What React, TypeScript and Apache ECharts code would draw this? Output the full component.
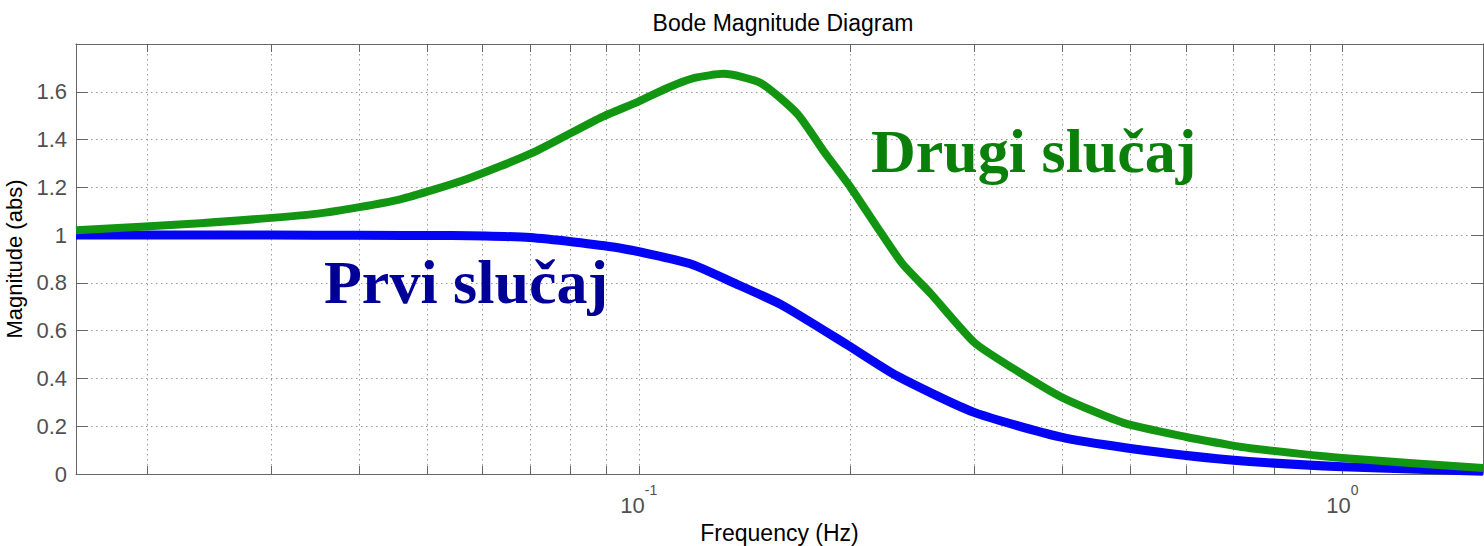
import React, { useEffect, useRef } from 'react';
import * as echarts from 'echarts';

// ---- data ----
const xMinExp = -1.8;
const xMaxExp = 0.2;
const gridFreqs = [0.02, 0.03, 0.04, 0.05, 0.06, 0.07, 0.08, 0.09, 0.1, 0.2, 0.3, 0.4, 0.5, 0.6, 0.7, 0.8, 0.9, 1];
const labelFreqs = [0.1, 1];
const yMin = 0;
const yMax = 1.8;
const yStep = 0.2;

const freqPrvi = [0.01585, 0.02, 0.03, 0.04, 0.054, 0.07, 0.093, 0.118, 0.136, 0.16, 0.198, 0.233, 0.299, 0.397, 0.494, 0.688, 1.0, 1.585];
const magPrvi = [1.0, 1.0, 1.0, 0.999, 0.998, 0.99, 0.948, 0.881, 0.802, 0.706, 0.54, 0.41, 0.259, 0.155, 0.109, 0.06, 0.03, 0.012];

const freqDrugi = [0.01585, 0.0238, 0.035, 0.0458, 0.057, 0.0707, 0.088, 0.1, 0.11, 0.12, 0.132, 0.149, 0.168, 0.183, 0.2, 0.218, 0.237, 0.26, 0.3, 0.34, 0.4, 0.49, 0.6, 0.69, 0.74, 1.0, 1.585];
const magDrugi = [1.02, 1.05, 1.09, 1.15, 1.235, 1.345, 1.49, 1.56, 1.617, 1.658, 1.675, 1.637, 1.508, 1.353, 1.2, 1.035, 0.88, 0.755, 0.55, 0.443, 0.32, 0.213, 0.155, 0.122, 0.108, 0.067, 0.025];

const titleText = 'Bode Magnitude Diagram';
const xName = 'Frequency (Hz)';
const yName = 'Magnitude (abs)';
const labelPrvi = 'Prvi slučaj';
const labelDrugi = 'Drugi slučaj';

const sans = '"Liberation Sans", Arial, sans-serif';
const serif = '"Liberation Serif", "Times New Roman", serif';

const gridExps = gridFreqs.map((f) => Math.log10(f));
const labelExps = labelFreqs.map((f) => Math.round(Math.log10(f)));

export default function App() {
  const ref = useRef<HTMLDivElement>(null);
  useEffect(() => {
    const chart = echarts.init(ref.current!, null, { renderer: 'svg' });
    const axisColor = '#666';
    const splitStyle = { color: '#9a9a9a', type: [1.5, 3.5] as any, width: 1 };
    const option: any = {
      animation: false,
      backgroundColor: '#fff',
      title: {
        text: titleText,
        left: 778,
        top: 6,
        textAlign: 'center',
        textStyle: { fontSize: 23, fontWeight: 'normal', color: '#000', fontFamily: sans },
      },
      grid: { left: 76, right: 1, top: 44, bottom: 72, outerBoundsMode: 'none', containLabel: false },
      xAxis: [
        {
          type: 'value',
          position: 'bottom',
          min: xMinExp,
          max: xMaxExp,
          name: xName,
          nameLocation: 'middle',
          nameGap: 47,
          nameTextStyle: { fontSize: 23, color: '#000', fontFamily: sans },
          axisLine: { show: true, onZero: false, lineStyle: { color: axisColor, width: 1 } },
          axisTick: { show: true, inside: true, length: 8, customValues: gridExps, lineStyle: { color: axisColor } },
          axisLabel: {
            customValues: labelExps,
            margin: 9,
            formatter: (v: number) => `{b|10}{s|${Math.round(v)}}`,
            rich: {
              b: { fontSize: 22, color: '#505050', fontFamily: sans, padding: [11, 0, 0, 0], verticalAlign: 'bottom' },
              s: { fontSize: 14, color: '#505050', fontFamily: sans, verticalAlign: 'top' },
            },
          },
          splitLine: { show: true, lineStyle: splitStyle },
        },
        {
          type: 'value',
          position: 'top',
          min: xMinExp,
          max: xMaxExp,
          axisLine: { show: true, onZero: false, lineStyle: { color: axisColor, width: 1 } },
          axisTick: { show: true, inside: true, length: 8, customValues: gridExps, lineStyle: { color: axisColor } },
          axisLabel: { show: false },
          splitLine: { show: false },
        },
      ],
      yAxis: [
        {
          type: 'value',
          position: 'left',
          min: yMin,
          max: yMax,
          interval: yStep,
          name: yName,
          nameLocation: 'middle',
          nameGap: 36,
          nameTextStyle: { fontSize: 22, color: '#000', fontFamily: sans },
          axisLine: { show: true, onZero: false, lineStyle: { color: axisColor, width: 1 } },
          axisTick: { show: true, inside: true, length: 12, lineStyle: { color: axisColor } },
          axisLabel: {
            fontSize: 22,
            color: '#505050',
            fontFamily: sans,
            margin: 9,
            showMaxLabel: false,
            formatter: (v: number) => String(+v.toFixed(1)),
          },
          splitLine: { show: true, lineStyle: splitStyle },
        },
        {
          type: 'value',
          position: 'right',
          min: yMin,
          max: yMax,
          interval: yStep,
          axisLine: { show: true, onZero: false, lineStyle: { color: axisColor, width: 1 } },
          axisTick: { show: true, inside: true, length: 12, lineStyle: { color: axisColor } },
          axisLabel: { show: false },
          splitLine: { show: false },
        },
      ],
      series: [
        {
          name: labelPrvi,
          type: 'line',
          xAxisIndex: 0,
          yAxisIndex: 0,
          showSymbol: false,
          smooth: 0.2,
          lineStyle: { color: '#0505f5', width: 9, cap: 'butt', join: 'round' },
          data: freqPrvi.map((f, i) => [Math.log10(f), magPrvi[i]]),
          z: 3,
        },
        {
          name: labelDrugi,
          type: 'line',
          xAxisIndex: 0,
          yAxisIndex: 0,
          showSymbol: false,
          smooth: 0.2,
          lineStyle: { color: '#129612', width: 8, cap: 'butt', join: 'round' },
          data: freqDrugi.map((f, i) => [Math.log10(f), magDrugi[i]]),
          z: 4,
        },
      ],
      graphic: [
        {
          type: 'text',
          x: 871,
          y: 151,
          z: 10,
          style: { text: labelDrugi, font: `bold 62px ${serif}`, fill: '#0a800a', verticalAlign: 'middle', align: 'left' },
        },
        {
          type: 'text',
          x: 324,
          y: 282,
          z: 10,
          style: { text: labelPrvi, font: `bold 62px ${serif}`, fill: '#000099', verticalAlign: 'middle', align: 'left' },
        },
      ],
    };
    chart.setOption(option);
    return () => chart.dispose();
  }, []);
  return (
    <div
      ref={ref}
      style={{ position: 'absolute', left: 0, top: 0, width: 1484, height: 546, background: '#fff' }}
    />
  );
}
